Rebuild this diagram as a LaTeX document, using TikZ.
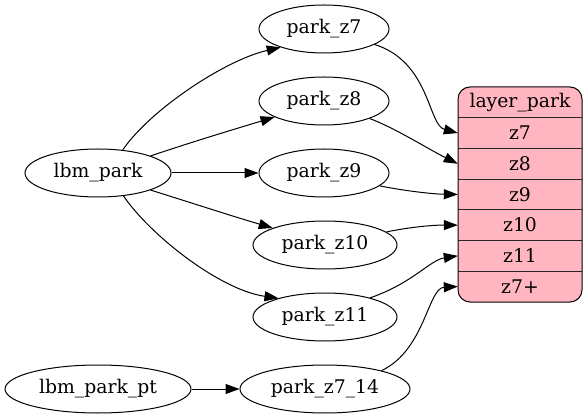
\documentclass[tikz,border=0pt]{standalone}
\usepackage{fontspec}
\setmainfont{DejaVu Serif}
\usetikzlibrary{arrows.meta,shapes.geometric}
\definecolor{lpink}{HTML}{FFB6C1}
\begin{document}
\begin{tikzpicture}[x=1pt,y=-1pt,
  every node/.style={font=\fontsize{18.8}{22}\selectfont},
  ell/.style={draw,ellipse,line width=1pt,inner sep=0pt,minimum height=48pt},
  rowbox/.style={rectangle,inner sep=0pt,minimum width=124pt,minimum height=30.7pt},
  edge/.style={line width=1pt,-{Triangle[length=14pt,width=10pt]}}]
\useasboundingbox (0,0) rectangle (588,419);
% record
\draw[fill=lpink,line width=1pt,rounded corners=12pt] (458,87) rectangle (582,302);
\foreach \yy in {117.7,148.4,179.1,209.8,240.5,271.2}
  \draw[line width=1pt,black!85] (458,\yy) -- (582,\yy);
\node[rowbox] (lp-head) at (520,102.35) {layer\_park};
\node[rowbox] (lp-z7) at (520,133.05) {z7};
\node[rowbox] (lp-z8) at (520,163.75) {z8};
\node[rowbox] (lp-z9) at (520,194.45) {z9};
\node[rowbox] (lp-z10) at (520,225.15) {z10};
\node[rowbox] (lp-z11) at (520,255.85) {z11};
\node[rowbox] (lp-z7p) at (520,286.55) {z7+};
% ellipses
\node[ell,minimum width=146pt] (lbm) at (98,173) {lbm\_park};
\node[ell,minimum width=186pt] (lbmpt) at (98,389) {lbm\_park\_pt};
\node[ell,minimum width=130pt] (z7) at (324,29) {park\_z7};
\node[ell,minimum width=130pt] (z8) at (324,101) {park\_z8};
\node[ell,minimum width=130pt] (z9) at (324,173) {park\_z9};
\node[ell,minimum width=144pt] (z10) at (325,245) {park\_z10};
\node[ell,minimum width=144pt] (z11) at (325,317) {park\_z11};
\node[ell,minimum width=170pt] (z714) at (325,389) {park\_z7\_14};
% edges from lbm_park
\draw[edge] (lbm.43) .. controls (150,110) and (225,60) .. (z7.203);
\draw[edge] (lbm.18) .. controls (195,141) and (235,129) .. (z8.198);
\draw[edge] (lbm) -- (z9);
\draw[edge] (lbm.-18) .. controls (195,204) and (235,217) .. (z10.162);
\draw[edge] (lbm.-42) .. controls (150,235) and (220,290) .. (z11.158);
\draw[edge] (lbmpt) -- (z714);
% edges to record
\draw[edge] (z7.-17) .. controls (430,62) and (428,125) .. (lp-z7.west);
\draw[edge] (z8.-21) .. controls (395,128) and (430,150) .. (lp-z8.west);
\draw[edge] (z9.-13) .. controls (400,190) and (430,194) .. (lp-z9.west);
\draw[edge] (z10.12) .. controls (405,228) and (430,225) .. (lp-z10.west);
\draw[edge] (z11.23) .. controls (413,283) and (430,260) .. (lp-z11.west);
\draw[edge] (z714.18) .. controls (425,350) and (428,288) .. (lp-z7p.west);
\end{tikzpicture}
\end{document}
